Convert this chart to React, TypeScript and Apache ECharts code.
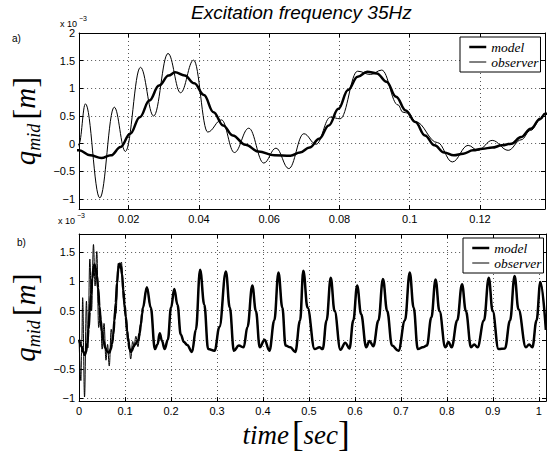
import React, { useEffect, useRef } from 'react';
import * as echarts from 'echarts';

// time [s]
const modelT = [
  0, 0.00586, 0.00906, 0.01223, 0.01497, 0.0177, 0.02044, 0.02317, 0.02591, 0.02864,
  0.03138, 0.03321, 0.03595, 0.03868, 0.04142, 0.04415, 0.04689, 0.04962, 0.05326, 0.05693,
  0.06147, 0.06603, 0.06877, 0.0715, 0.07424, 0.07697, 0.07971, 0.08244, 0.08518, 0.08791,
  0.09065, 0.09338, 0.09612, 0.09886, 0.10159, 0.10433, 0.10706, 0.1098, 0.11253, 0.11527,
  0.118, 0.12074, 0.12347, 0.12621, 0.12894, 0.13168, 0.13441, 0.13715, 0.13852,
  0.1474, 0.1558, 0.1649, 0.1705, 0.1754, 0.1803, 0.186, 0.193, 0.2, 0.207,
  0.214, 0.2211, 0.2281, 0.2351, 0.2456, 0.254, 0.2632, 0.2723, 0.2807, 0.2947,
  0.3053, 0.3193, 0.3277, 0.3368, 0.3474, 0.3579, 0.3663, 0.3768, 0.3846, 0.393,
  0.4035, 0.414, 0.4246, 0.4337, 0.4421, 0.4491, 0.4596, 0.4702, 0.4807, 0.4878,
  0.4969, 0.5123, 0.5228, 0.5299, 0.5383, 0.5474, 0.5558, 0.5684, 0.579, 0.5881,
  0.5965, 0.6049, 0.6134, 0.6246, 0.6316, 0.64, 0.6512, 0.661, 0.6702, 0.6807,
  0.6947, 0.7088, 0.7193, 0.7277, 0.7368, 0.7474, 0.7565, 0.7663, 0.7754, 0.7839,
  0.7965, 0.8035, 0.8105, 0.8225, 0.833, 0.8414, 0.8526, 0.8596, 0.8667, 0.8807,
  0.8912, 0.8996, 0.9123, 0.9263, 0.9375, 0.9474, 0.9558, 0.9719, 0.979, 0.986,
  0.9951, 1.0035, 1.0154,
];
// q_mid of the model [x 1e-3 m]
const modelQ = [
  0, -0.12, -0.21, -0.26, -0.21, -0.06, 0.18, 0.48, 0.78, 1.05,
  1.23, 1.29, 1.23, 1.09, 0.88, 0.57, 0.33, 0.15, -0.02, -0.14,
  -0.21, -0.22, -0.16, -0.07, 0.09, 0.33, 0.63, 0.97, 1.21, 1.3,
  1.27, 1.12, 0.85, 0.6, 0.39, 0.15, -0.03, -0.16, -0.21, -0.18,
  -0.12, -0.09, -0.07, -0.03, 0, 0.12, 0.27, 0.45, 0.54,
  0.9, 0.55, -0.16, -0.08, 0.11, -0.02, -0.16, 0, 0.55, 0.87,
  0.6, 0.09, -0.04, -0.09, -0.21, 0.17, 1.2, 0.6, -0.16, -0.19,
  0.22, 1.17, 0.55, -0.19, -0.1, -0.13, 0.22, 0.93, 0.49, -0.13,
  0, -0.19, 0.33, 1.15, 0.55, -0.1, -0.13, -0.21, 0.33, 1.18,
  0.55, -0.16, -0.13, -0.16, 0.33, 1.06, 0.49, -0.17, -0.05, -0.15,
  0.33, 0.93, 0.44, -0.13, -0.02, -0.11, 0.33, 1.04, 0.49, -0.1,
  -0.19, 0.33, 1.15, 0.55, -0.16, -0.13, -0.1, 0.38, 1.03, 0.49,
  -0.13, -0.04, -0.13, 0.33, 0.95, 0.49, -0.13, -0.08, -0.13, 0.33,
  1.06, 0.49, -0.16, -0.15, 0.33, 1.09, 0.52, -0.13, -0.08, -0.13,
  0.33, 0.99, 0.17,
];
// observer during its transient (afterwards it coincides with the model)
const observerT = [
  0, 0.0038, 0.00586, 0.00769, 0.01179, 0.0159, 0.01907, 0.02336, 0.02711, 0.03121,
  0.03477, 0.03849, 0.04251, 0.04642, 0.05009, 0.05419, 0.05846, 0.06193, 0.06557, 0.06986,
  0.07334, 0.07744, 0.08018, 0.08518, 0.08882, 0.09202, 0.09667, 0.09804, 0.09968, 0.10159,
  0.10789, 0.11211, 0.11663, 0.1194, 0.12347, 0.12804, 0.13168, 0.13441, 0.13715, 0.13852,
];
const observerQ = [
  0, -0.7, 0, 0.72, -0.98, 0.66, -0.14, 1.38, 0.5, 1.63,
  0.92, 1.51, 0.21, 0.43, -0.16, 0.28, -0.35, -0.08, -0.45, 0.18,
  -0.01, 0.48, 0.45, 1.31, 1.25, 1.33, 0.7, 0.57, 0.55, 0.4,
  0.02, -0.33, -0.03, -0.12, 0.06, -0.12, 0.07, 0.24, 0.43, 0.54,
];

const seriesNames = ['model', 'observer'];
const seriesWidths = [2.5, 1];
const titleText = 'Excitation frequency 35Hz';
const panelTags = ['a)', 'b)'];
const topRange = { tMin: 0.0059, tMax: 0.1385, qMin: -1.18, qMax: 2.0, tStep: 0.02, qStep: 0.5 };
const botRange = { tMin: 0, tMax: 1.0157, qMin: -1.05, qMax: 1.81, tStep: 0.1, qStep: 0.5 };

const modelData = modelT.map((t, i) => [t, modelQ[i]]);
const lastObs = observerT[observerT.length - 1];
const observerData = observerT
  .map((t, i) => [t, observerQ[i]])
  .concat(modelData.filter((p) => p[0] > lastObs));

const fmt = (step: number) => (v: number) => {
  const k = v / step;
  if (Math.abs(k - Math.round(k)) > 1e-6) return '';
  const r = Math.round(k) * step;
  return String(parseFloat(r.toFixed(4))).replace('-', '\u2212');
};

const SANS = 'Liberation Sans';
const SERIF = 'Liberation Serif';

const axisLine = { show: true, onZero: false, lineStyle: { color: '#000', width: 1 } };
const axisTick = { show: true, inside: true, length: 4, lineStyle: { color: '#000', width: 1 } };
const splitLine = { show: true, lineStyle: { color: '#555', width: 1, type: [1, 3] } };
const label = (step: number) => ({
  show: true,
  color: '#000',
  fontFamily: SANS,
  fontSize: 11,
  margin: 4,
  formatter: fmt(step),
});

const yName = '{q|q}{s|mid}{lb|[}{m|m}{rb|]}';
const yNameStyle = {
  rich: {
    q: { fontFamily: SERIF, fontStyle: 'italic', fontSize: 29, lineHeight: 36, color: '#000' },
    s: { fontFamily: SERIF, fontStyle: 'italic', fontSize: 18, lineHeight: 20, verticalAlign: 'bottom', color: '#000' },
    lb: { fontFamily: SERIF, fontSize: 33, lineHeight: 36, padding: [0, 0, 0, 4], color: '#000' },
    rb: { fontFamily: SERIF, fontSize: 33, lineHeight: 36, color: '#000' },
    m: { fontFamily: SERIF, fontStyle: 'italic', fontSize: 29, lineHeight: 36, color: '#000' },
  },
};

const expRich = {
  a: { fontFamily: SANS, fontSize: 9, lineHeight: 13, verticalAlign: 'bottom', fill: '#000' },
  b: { fontFamily: SANS, fontSize: 7, lineHeight: 6, verticalAlign: 'top', fill: '#000', padding: [0, 0, 0, 2] },
};

function xAxes(grid: number, r: any, extra: any = {}) {
  const stepOpt =
    r.tMin % r.tStep === 0 ? { interval: r.tStep } : { minInterval: r.tStep, maxInterval: r.tStep };
  return [
    {
      type: 'value', gridIndex: grid, position: 'bottom', min: r.tMin, max: r.tMax, ...stepOpt,
      axisLine, axisTick, splitLine, axisLabel: label(r.tStep), ...extra,
    },
    {
      type: 'value', gridIndex: grid, position: 'top', min: r.tMin, max: r.tMax, ...stepOpt,
      axisLine, axisTick, splitLine: { show: false }, axisLabel: { show: false },
    },
  ];
}
function yAxes(grid: number, r: any) {
  return [
    {
      type: 'value', gridIndex: grid, position: 'left', min: r.qMin, max: r.qMax,
      minInterval: r.qStep, maxInterval: r.qStep,
      axisLine, axisTick, splitLine, axisLabel: label(r.qStep),
      name: yName, nameLocation: 'middle', nameRotate: 90, nameGap: 19, nameTextStyle: yNameStyle,
    },
    {
      type: 'value', gridIndex: grid, position: 'right', min: r.qMin, max: r.qMax,
      minInterval: r.qStep, maxInterval: r.qStep,
      axisLine, axisTick, splitLine: { show: false }, axisLabel: { show: false },
    },
  ];
}

const legendBase = {
  data: seriesNames.map((n, i) => ({ name: n, lineStyle: { width: seriesWidths[i], color: '#000' } })),
  orient: 'vertical',
  padding: [3, 2, 3, 8],
  itemGap: 1,
  itemWidth: 17,
  itemHeight: 9,
  itemTextGap: 3,
  borderColor: '#000',
  borderWidth: 1,
  borderRadius: 0,
  backgroundColor: '#fff',
  itemStyle: { opacity: 0, color: 'transparent', borderWidth: 0 },
  textStyle: { fontFamily: SERIF, fontStyle: 'italic', fontSize: 13.5, lineHeight: 9, color: '#000' },
};

export default function App() {
  const ref = useRef<HTMLDivElement>(null);
  useEffect(() => {
    document.body.style.margin = '0';
    if (!ref.current) return;
    const chart = echarts.init(ref.current, null, { renderer: 'svg' });
    const timeName = '{t|time}{lb|[}{s|sec}{rb|]}';
    const option: any = {
      animation: false,
      backgroundColor: '#fff',
      title: {
        text: titleText,
        left: 191,
        top: 3,
        padding: 0,
        textStyle: { fontFamily: SANS, fontStyle: 'italic', fontWeight: 'normal', fontSize: 19, color: '#000' },
      },
      grid: [
        { left: 60, top: 33, width: 485, height: 176 },
        { left: 63, top: 234, width: 483, height: 176 },
      ],
      xAxis: [
        ...xAxes(0, topRange),
        ...xAxes(1, botRange, {
          name: timeName,
          nameLocation: 'middle',
          nameGap: 7,
          nameTextStyle: {
            padding: [0, 33, 0, 0],
            rich: {
              t: { fontFamily: SERIF, fontStyle: 'italic', fontSize: 27, lineHeight: 36, color: '#000' },
              s: { fontFamily: SERIF, fontStyle: 'italic', fontSize: 27, lineHeight: 36, color: '#000' },
              lb: { fontFamily: SERIF, fontSize: 35, lineHeight: 36, padding: [0, 0, 0, 3], color: '#000' },
              rb: { fontFamily: SERIF, fontSize: 35, lineHeight: 36, color: '#000' },
            },
          },
        }),
      ],
      yAxis: [...yAxes(0, topRange), ...yAxes(1, botRange)],
      legend: [
        { ...legendBase, left: 460, top: 37 },
        { ...legendBase, left: 463, top: 238 },
      ],
      graphic: [
        { type: 'text', left: 12, top: 33, style: { text: panelTags[0], fontFamily: SANS, fontSize: 10, fill: '#000' } },
        { type: 'text', left: 17, top: 237, style: { text: panelTags[1], fontFamily: SANS, fontSize: 10, fill: '#000' } },
        { type: 'text', left: 60, top: 15, style: { text: '{a|x 10}{b|\u22123}', rich: expRich } },
        { type: 'text', left: 58, top: 212, style: { text: '{a|x 10}{b|\u22123}', rich: expRich } },
      ],
      series: [
        { name: seriesNames[0], type: 'line', xAxisIndex: 0, yAxisIndex: 0, data: modelData, showSymbol: false, symbol: 'none', smooth: 0.4, smoothMonotone: 'x', lineStyle: { color: '#000', width: seriesWidths[0] }, itemStyle: { color: '#000' } },
        { name: seriesNames[1], type: 'line', xAxisIndex: 0, yAxisIndex: 0, data: observerData, showSymbol: false, symbol: 'none', smooth: 0.4, smoothMonotone: 'x', lineStyle: { color: '#000', width: seriesWidths[1] }, itemStyle: { color: '#000' } },
        { name: seriesNames[0], type: 'line', xAxisIndex: 2, yAxisIndex: 2, data: modelData, showSymbol: false, symbol: 'none', smooth: 0.4, smoothMonotone: 'x', lineStyle: { color: '#000', width: seriesWidths[0] }, itemStyle: { color: '#000' } },
        { name: seriesNames[1], type: 'line', xAxisIndex: 2, yAxisIndex: 2, data: observerData, showSymbol: false, symbol: 'none', smooth: 0.4, smoothMonotone: 'x', lineStyle: { color: '#000', width: seriesWidths[1] }, itemStyle: { color: '#000' } },
      ],
    };
    chart.setOption(option);
    return () => chart.dispose();
  }, []);
  return <div ref={ref} style={{ width: 556, height: 453 }} />;
}
